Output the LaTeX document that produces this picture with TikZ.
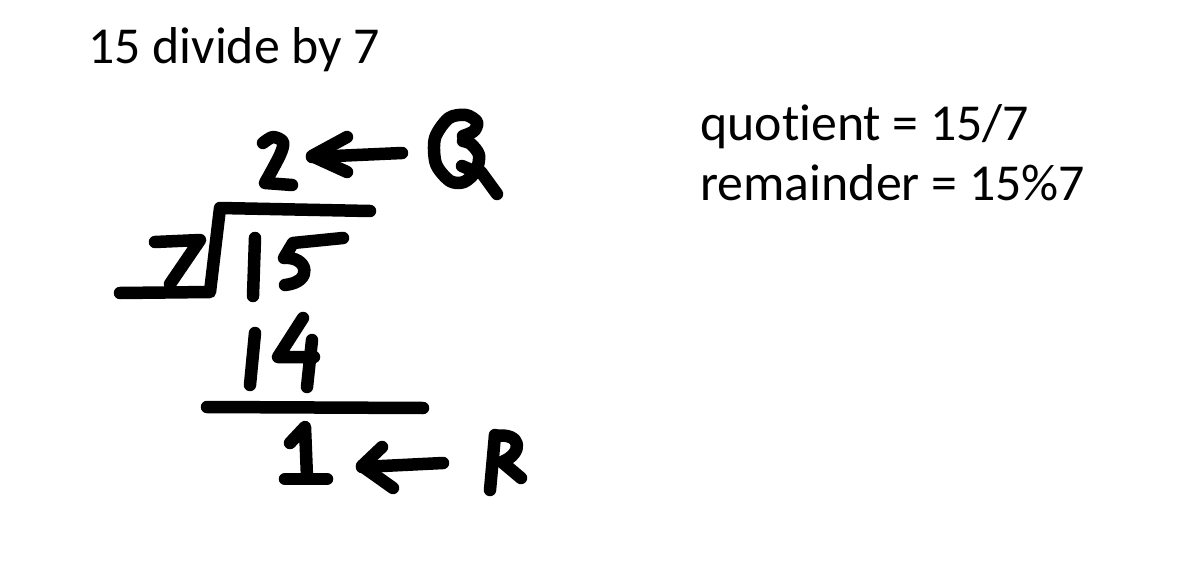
\documentclass[tikz,border=0pt]{standalone}
\usepackage{fontspec}
\setmainfont{Carlito}[Ligatures=NoCommon]
\usetikzlibrary{positioning}

\begin{document}
\begin{tikzpicture}[x=0.02cm, y=-0.02cm]
    \tikzstyle{pen}=[line width=0.25cm, line cap=round, line join=round]
    \tikzstyle{mytext}=[anchor=base west, inner sep=0pt, font=\fontsize{29.5}{35}\selectfont]
    \useasboundingbox (0,0) rectangle (1201,561);

    \node[mytext] (title) at (88,63) {15 divide by 7};
    \node[mytext] (quot) at (700,140) {quotient = 15/7};
    \node[mytext] (rem) at (700,200) {remainder = 15\%7};

    % quotient digit
    \draw[pen] plot[smooth] coordinates {(263,143) (273,137) (283,142) (280,155) (265,183)} -- (292,185);

    % arrow from Q
    \draw[pen] (402,153) -- (312,157);
    \draw[pen] (347,137) -- (312,156) -- (347,172);

    % Q
    \draw[pen] plot[smooth] coordinates {(463,136) (474,131) (477,122) (466,115) (449,118) (435,138) (436,164) (450,181) (464,182) (476,171) (479,155) (471,144) (463,141)};
    \draw[pen] (462,166) -- (469,169);
    \draw[pen] (481,172) -- (497,194);

    % division bracket
    \draw[pen] (120,293) -- (210,292) -- (220,208) -- (370,211);

    % divisor and dividend
    \draw[pen] (155,242) -- (200,240) -- (170,284);
    \draw[pen] (255,238) -- (253,296);
    \draw[pen] (343,238) -- (293,243) -- (284,258) .. controls (308,256) and (314,282) .. (285,285);

    % 14
    \draw[pen] (255,333) -- (250,385);
    \draw[pen] (303,318) -- (278,357) -- (314,357);
    \draw[pen] (312,340) -- (307,387);

    % subtraction line
    \draw[pen] (207,407) -- (423,408);

    % remainder digit
    \draw[pen] (290,443) -- (305,427) -- (307,477);
    \draw[pen] (285,479) -- (327,479);

    % arrow from R
    \draw[pen] (443,463) -- (362,467);
    \draw[pen] (382,447) -- (362,466) -- (393,488);

    % R
    \draw[pen] (495,435) -- (490,490);
    \draw[pen] (495,436) .. controls (522,432) and (524,453) .. (502,462) -- (521,478);

\end{tikzpicture}
\end{document}
